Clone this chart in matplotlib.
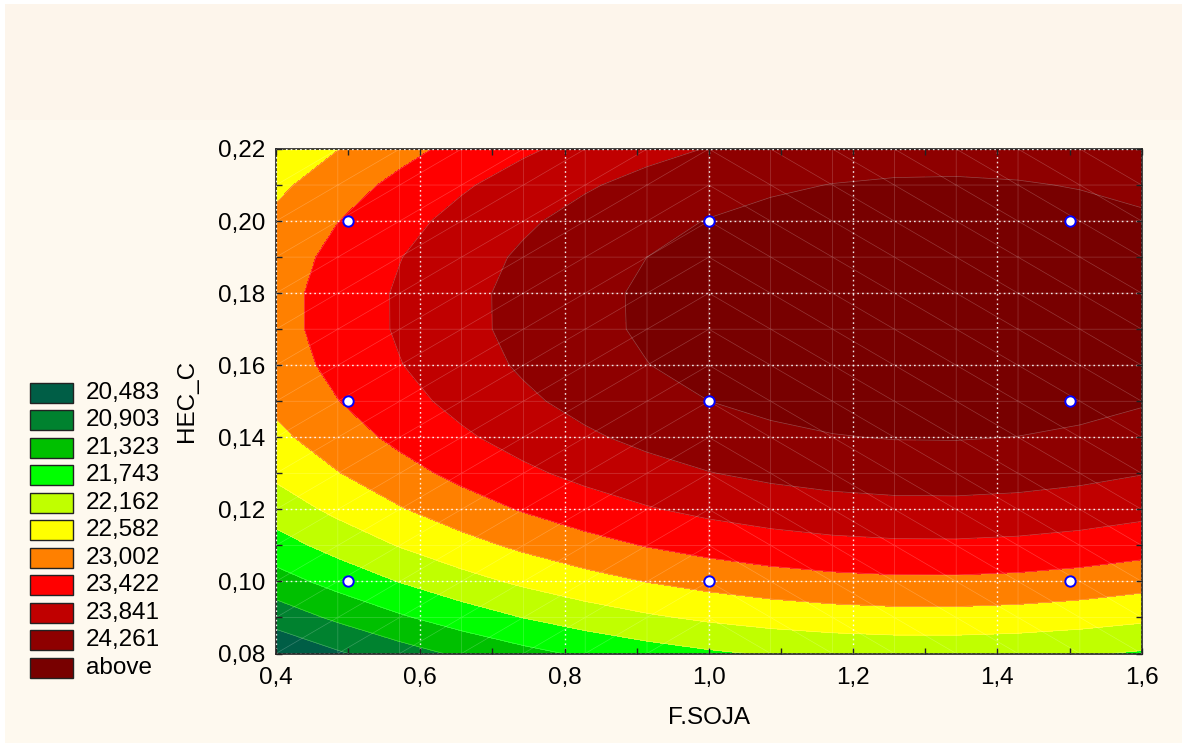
import numpy as np
import matplotlib
matplotlib.use("Agg")
import matplotlib.pyplot as plt
import matplotlib.tri as mtri
from matplotlib.patches import Rectangle
from matplotlib.ticker import MultipleLocator, FixedLocator

# ---------------- data ----------------
soja_design = [0.5, 1.0, 1.5]          # F.SOJA design levels
hec_design = [0.10, 0.15, 0.20]        # HEC_C design levels
# observed response at the design points (rows = HEC_C, cols = F.SOJA)
response = [
    [21.53, 22.71, 22.85],   # HEC_C = 0.10
    [23.03, 24.27, 24.40],   # HEC_C = 0.15
    [23.05, 24.28, 24.42],   # HEC_C = 0.20
]
level_values = [20.483, 20.903, 21.323, 21.743, 22.162, 22.582,
                23.002, 23.422, 23.841, 24.261]
level_labels = ["20,483", "20,903", "21,323", "21,743", "22,162", "22,582",
                "23,002", "23,422", "23,841", "24,261", "above"]
level_colors = ["#005E46", "#00822F", "#00C000", "#00FF00", "#C0FF00",
                "#FFFF00", "#FF8000", "#FF0000", "#C00000", "#8E0000",
                "#780000"]
x_ticks = [0.4, 0.6, 0.8, 1.0, 1.2, 1.4, 1.6]
x_ticklabels = ["0,4", "0,6", "0,8", "1,0", "1,2", "1,4", "1,6"]
y_ticks = [0.08, 0.10, 0.12, 0.14, 0.16, 0.18, 0.20, 0.22]
y_ticklabels = ["0,08", "0,10", "0,12", "0,14", "0,16", "0,18", "0,20", "0,22"]

# ---------------- quadratic response-surface fit ----------------
DX, DY = np.meshgrid(soja_design, hec_design)
dx, dy = DX.ravel(), DY.ravel()
dz = np.asarray(response, dtype=float).ravel()

def basis(x, y):
    return np.column_stack([np.ones_like(x), x, y, x * x, y * y, x * y])

coef, *_ = np.linalg.lstsq(basis(dx, dy), dz, rcond=None)

# triangulated evaluation mesh (15 x 15 nodes)
nx, ny = 15, 15
gx = np.linspace(0.4, 1.6, nx)
gy = np.linspace(0.08, 0.22, ny)
GX, GY = np.meshgrid(gx, gy)
px, py = GX.ravel(), GY.ravel()
pz = basis(px, py) @ coef

tris = []
for j in range(ny - 1):
    for i in range(nx - 1):
        a = j * nx + i
        b = a + 1
        c = a + nx
        d = c + 1
        if i < (nx - 1) // 2:
            tris += [[a, b, d], [a, d, c]]
        else:
            tris += [[a, b, c], [b, d, c]]
tri = mtri.Triangulation(px, py, np.array(tris))

# ---------------- figure ----------------
plt.rcParams['font.family'] = ['Liberation Sans', 'DejaVu Sans']
FS = 17.5
W, H = 1182, 745
fig = plt.figure(figsize=(W / 100, H / 100), dpi=100)
fig.patch.set_facecolor("white")

def fx(p):
    return p / W

def fy(p):
    return 1 - p / H

fig.patches.append(Rectangle((fx(5), fy(743)), fx(W) - fx(5), fy(120) - fy(743),
                             transform=fig.transFigure, facecolor="#FEF9EF",
                             edgecolor="none", zorder=-10))
fig.patches.append(Rectangle((fx(5), fy(120)), fx(W) - fx(5), fy(4) - fy(120),
                             transform=fig.transFigure, facecolor="#FDF5EB",
                             edgecolor="none", zorder=-10))

L, R, T, B = 276, 1141.7, 149, 653.5
ax = fig.add_axes([fx(L), fy(B), fx(R) - fx(L), fy(T) - fy(B)])

bounds = [min(pz.min(), level_values[0]) - 1] + level_values + [max(pz.max(), level_values[-1]) + 1]
ax.tricontourf(tri, pz, levels=bounds, colors=level_colors, zorder=1)
ax.tricontour(tri, pz, levels=level_values, colors="white", alpha=0.28,
              linewidths=0.5, zorder=1.2)
ax.triplot(tri, color="white", alpha=0.22, lw=0.5, zorder=1.1)

ax.set_xlim(0.4, 1.6)
ax.set_ylim(0.08, 0.22)
ax.xaxis.set_major_locator(FixedLocator(x_ticks))
ax.yaxis.set_major_locator(FixedLocator(y_ticks))
ax.set_xticklabels(x_ticklabels)
ax.set_yticklabels(y_ticklabels)
ax.xaxis.set_minor_locator(MultipleLocator(0.1))
ax.yaxis.set_minor_locator(MultipleLocator(0.01))
ax.tick_params(which="both", direction="in", top=True, right=True,
               length=4, width=1.0, color="#222222")
ax.tick_params(axis="x", which="major", labelsize=FS, pad=9.5)
ax.tick_params(axis="y", which="major", labelsize=FS, pad=7.5)
for s in ax.spines.values():
    s.set_linewidth(1.2)
    s.set_color("#222222")

ax.set_axisbelow(False)
ax.grid(True, which="major", color="white", linestyle=(0, (1.2, 2.2)),
        linewidth=1.0, alpha=0.9)

ax.scatter(dx, dy, s=56, facecolor="white", edgecolor="#0000FF",
           linewidth=1.4, zorder=5, clip_on=False)

# axis titles
fig.text(fx(187), fy(401), "HEC_C", rotation=90, ha="center", va="center",
         fontsize=FS)
fig.text(fx(709), fy(718), "F.SOJA", ha="center", va="center", fontsize=FS)

# legend
for k, (lab, col) in enumerate(zip(level_labels, level_colors)):
    cy = 392.7 + k * 27.5
    fig.patches.append(Rectangle((fx(30), fy(cy + 10)), fx(43), fy(0) - fy(20),
                                 transform=fig.transFigure, facecolor=col,
                                 edgecolor="#222222", linewidth=1.0))
    fig.text(fx(86), fy(cy), lab, ha="left", va="center", fontsize=FS)

fig.savefig("out.png", dpi=100, facecolor=fig.get_facecolor())
